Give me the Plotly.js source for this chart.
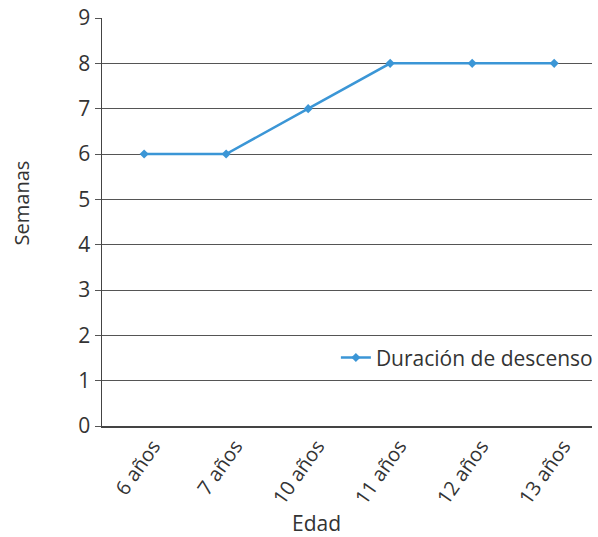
<!DOCTYPE html>
<html>
<head>
<meta charset="utf-8">
<script src="https://cdn.plot.ly/plotly-3.0.1.min.js"></script>
<style>html,body{margin:0;padding:0;background:#fff}</style>
</head>
<body>
<div id="chart" style="width:598px;height:537px"></div>
<script>
// Duración de descenso por edad
const edades = ['6 años', '7 años', '10 años', '11 años', '12 años', '13 años'];
const semanas = [6, 6, 7, 8, 8, 8];
const yTicks = [0, 1, 2, 3, 4, 5, 6, 7, 8, 9];
const tituloX = 'Edad';
const tituloY = 'Semanas';

const font = 'Open Sans, Noto Sans, sans-serif';
const ink = '#333';

Plotly.newPlot('chart', [{
  x: edades,
  y: semanas,
  type: 'scatter',
  mode: 'lines+markers',
  name: 'Duración de descenso',
  line: {color: '#3b96d6', width: 2.5},
  marker: {symbol: 'diamond', size: 7, color: '#3b96d6'}
}], {
  width: 598,
  height: 537,
  margin: {l: 102, r: 0, t: 18, b: 111},
  paper_bgcolor: '#fff',
  plot_bgcolor: '#fff',
  font: {family: font, color: ink, size: 20},
  xaxis: {
    type: 'category',
    range: [-0.514, 5.461],
    automargin: false,
    showgrid: false,
    showline: true,
    linecolor: '#444',
    linewidth: 1.5,
    tickangle: -55,
    ticks: '',
    ticklabelshift: 9,
    ticklabelstandoff: -1,
    tickfont: {size: 20, color: ink},
    fixedrange: true
  },
  yaxis: {
    range: [0, 9],
    tickvals: yTicks,
    automargin: false,
    showgrid: true,
    gridcolor: '#555',
    gridwidth: 1,
    showline: true,
    linecolor: '#444',
    linewidth: 1.5,
    ticks: 'outside',
    ticklen: 6,
    tickcolor: '#555',
    tickfont: {size: 21, color: ink},
    zeroline: false,
    fixedrange: true
  },
  annotations: [
    {text: tituloX, xref: 'paper', yref: 'paper', x: 0.438, y: -0.238,
     xanchor: 'center', yanchor: 'middle', showarrow: false,
     font: {size: 21, color: ink}},
    {text: tituloY, xref: 'paper', yref: 'paper', x: -0.165, y: 0.546,
     xanchor: 'center', yanchor: 'middle', showarrow: false, textangle: -90,
     font: {size: 20, color: ink}}
  ],
  showlegend: true,
  legend: {
    x: 1.012, xanchor: 'right',
    y: 0.167, yanchor: 'middle',
    bgcolor: 'rgba(255,255,255,0)',
    font: {size: 21, color: ink},
    itemwidth: 30
  }
}, {displayModeBar: false, staticPlot: true});
</script>
</body>
</html>
